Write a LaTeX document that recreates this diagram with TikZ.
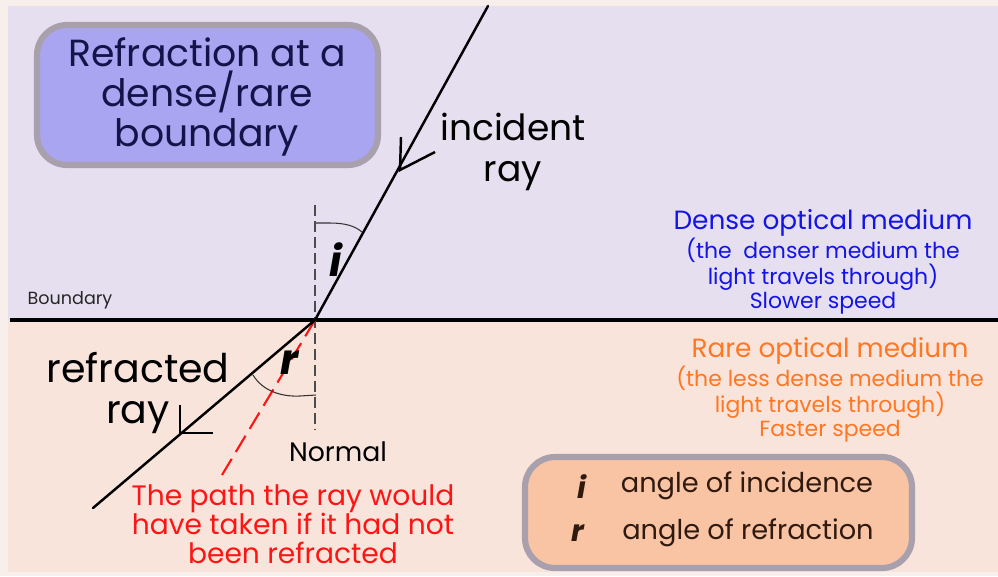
\documentclass[tikz,border=0pt]{standalone}
\usepackage{fontspec}
\setmainfont{Poppins}
\usetikzlibrary{positioning}
\definecolor{lavender}{HTML}{E6DFF0}
\definecolor{peach}{HTML}{F9E4DC}
\definecolor{edgepink}{HTML}{F8EEEC}
\definecolor{titlefill}{HTML}{A9A5F0}
\definecolor{legendfill}{HTML}{F9C4A4}
\definecolor{boxedge}{HTML}{A8A0AC}
\definecolor{denseblue}{HTML}{1414E6}
\definecolor{rareorange}{HTML}{FF7722}
\definecolor{ghostred}{HTML}{FF1414}
\definecolor{navytext}{HTML}{14144A}
\definecolor{browntext}{HTML}{301A10}
\newcommand{\anglesym}[1]{\textbf{\textit{#1}}}
\begin{document}
\begin{tikzpicture}[x=0.02cm, y=-0.02cm,
  ray/.style={line width=1.4pt, line cap=round},
  arrowmark/.style={line width=1.4pt},
  normalline/.style={line width=1.5pt, draw=black!70, dash pattern=on 0.22cm off 0.1cm},
  ghostline/.style={line width=1.2pt, draw=ghostred, dash pattern=on 0.38cm off 0.16cm},
  anglearc/.style={line width=0.6pt, draw=black!80},
  infobox/.style={draw=boxedge, line width=3.5pt, rounded corners=0.6cm},
  mediumtext/.style={align=center, inner sep=0pt}]
% backgrounds
\fill[edgepink] (0,0) rectangle (998,576);
\fill[lavender] (8,6) rectangle (998,320);
\fill[peach] (8,320) rectangle (998,572);
\useasboundingbox (0,0) rectangle (998,576);

% points on the rays
\coordinate (top) at (488,6);
\coordinate (hit) at (315,320);
\coordinate (low) at (93,508);
\coordinate (ghost) at (222,475);
\coordinate (ntop) at (315,205);
\coordinate (nlow) at (315,430);
\coordinate (bleft) at (10,320);
\coordinate (bright) at (998,320);

% boundary, normal and rays
\draw[line width=1.8pt] (bleft) -- (bright);
\draw[normalline] (ntop) -- (nlow);
\draw[ghostline] (hit) -- (ghost);
\draw[ray] (top) -- (hit) -- (low);

% direction marks
\coordinate (inmark) at (400,170);
\draw[arrowmark] (401,137) -- (inmark) -- (435,152);
\coordinate (outmark) at (180,433);
\draw[arrowmark] (180,405) -- (outmark) -- (213,433);

% angle arcs
\draw[anglearc] (316,223) -- (330,223) .. controls (345,223) and (355,226) .. (362,232);
\draw[anglearc] (316,395) -- (300,396) .. controls (280,397) and (262,390) .. (253,375);
\node[font=\fontsize{24}{24}\selectfont] (ilabel) at (336,260) {\anglesym{i}};
\node[font=\fontsize{24}{24}\selectfont] (rlabel) at (290,363) {\anglesym{r}};

% title box
\node[infobox, fill=titlefill, minimum width=6.82cm, minimum height=2.8cm] (titlebox) at (207.5,95) {};
\node[mediumtext, text=navytext, font=\fontsize{21.5}{22.8}\selectfont] (title) at (207,97)
  {Refraction at a\\dense/rare\\boundary};

% ray labels
\node[mediumtext, font=\fontsize{20.5}{23.8}\selectfont] (incident) at (513,152) {incident\\ray};
\node[mediumtext, font=\fontsize{22.5}{23.4}\selectfont] (refracted) at (138,393) {refracted\\ray};
\node[font=\fontsize{10}{12}\selectfont, text=black!85] (boundary) at (70,300) {Boundary};
\node[font=\fontsize{15.2}{17}\selectfont] (normal) at (338,452) {Normal};

% media
\node[mediumtext, text=denseblue, font=\fontsize{12.5}{13.6}\selectfont] (dense) at (823,262)
  {{\fontsize{15}{15}\selectfont Dense optical medium}\\(the\ \ denser medium the\\light travels through)\\Slower speed};
\node[mediumtext, text=rareorange, font=\fontsize{12.5}{13.6}\selectfont] (rare) at (830,390)
  {{\fontsize{15}{15}\selectfont Rare optical medium}\\(the less dense medium the\\light travels through)\\Faster speed};

% unrefracted path
\node[mediumtext, text=ghostred, font=\fontsize{16}{16.4}\selectfont] (ghosttext) at (293,524)
  {The path the ray would\\have taken if it had not\\been refracted};

% legend
\node[infobox, fill=legendfill, minimum width=7.74cm, minimum height=2.22cm] (legend) at (718.5,512.5) {};
\node[text=browntext, font=\fontsize{17}{17}\selectfont] (legi) at (582,487) {\anglesym{i}};
\node[text=browntext, font=\fontsize{17}{17}\selectfont] (legr) at (578,533) {\anglesym{r}};
\node[text=browntext, font=\fontsize{15.5}{17}\selectfont] (inc) at (747,486) {angle of incidence};
\node[text=browntext, font=\fontsize{15.5}{17}\selectfont] (refr) at (748,533) {angle of refraction};
\end{tikzpicture}
\end{document}
